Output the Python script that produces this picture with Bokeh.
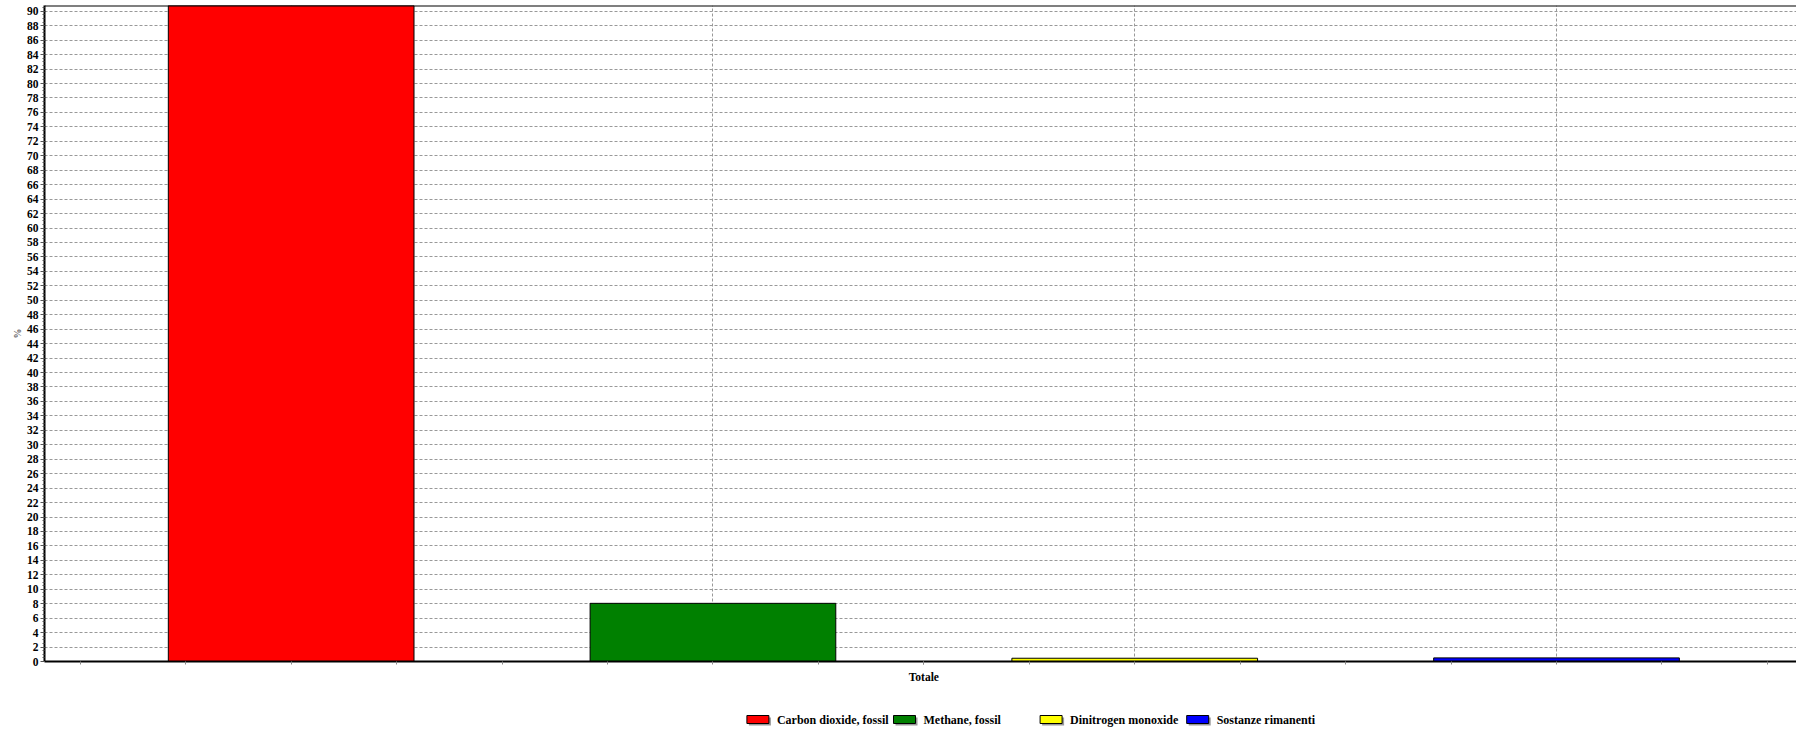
from bokeh.plotting import figure
from bokeh.layouts import column
from bokeh.models import (ColumnDataSource, FixedTicker, Range1d, Grid, Span)
from bokeh.core.properties import value
from bokeh.embed import file_html
from bokeh.resources import INLINE

# ---- data ----
substances = ["Carbon dioxide, fossil", "Methane, fossil", "Dinitrogen monoxide", "Sostanze rimanenti"]
shares = [91.0, 8.05, 0.45, 0.5]
colors = ["#ff0000", "#008000", "#ffff00", "#0000ff"]
positions = [1, 2, 3, 4]
group_label = "Totale"
y_ticks = list(range(0, 91, 2))
y_label = "%"

FONT = "Liberation Serif"

main = figure(width=1796, height=691, output_backend="svg", toolbar_location=None,
              x_range=Range1d(0.4152, 4.569), y_range=Range1d(0, 90.8),
              min_border_left=44, min_border_right=0, min_border_top=5, min_border_bottom=30)
main.outline_line_color = None
main.background_fill_color = "white"
main.border_fill_color = "white"

for xpos, val, col in zip(positions, shares, colors):
    src = ColumnDataSource(dict(x=[xpos], top=[val]))
    main.vbar(x="x", top="top", width=0.5825, bottom=0, source=src,
              fill_color=col, line_color="#000000", line_width=1)

# y axis
yax = main.yaxis[0]
minor_y = [i * 0.5 for i in range(0, 182)]
yax.ticker = FixedTicker(ticks=y_ticks, minor_ticks=minor_y)
yax.axis_line_color = "black"
yax.axis_line_width = 2
yax.major_tick_out = 4
yax.major_tick_in = 0
yax.minor_tick_out = 2
yax.minor_tick_in = 0
yax.major_tick_line_color = "#555555"
yax.minor_tick_line_color = "#555555"
yax.major_label_standoff = 2
yax.major_label_text_font = FONT
yax.major_label_text_font_style = "bold"
yax.major_label_text_font_size = "11.5px"
yax.major_label_text_color = "#000000"
yax.axis_label = y_label
yax.axis_label_text_font = FONT
yax.axis_label_text_font_style = "bold"
yax.axis_label_text_font_size = "10px"
yax.axis_label_text_color = "#666666"
yax.axis_label_standoff = 1

# x axis
xax = main.xaxis[0]
minor_x = [0.5 + 0.25 * i for i in range(0, 17)]
xax.ticker = FixedTicker(ticks=[2.5], minor_ticks=minor_x)
xax.major_label_overrides = {2.5: group_label}
xax.axis_line_color = "black"
xax.axis_line_width = 2
xax.major_tick_out = 3
xax.major_tick_in = 0
xax.minor_tick_out = 3
xax.minor_tick_in = 0
xax.major_tick_line_color = "#888888"
xax.minor_tick_line_color = "#888888"
xax.major_label_standoff = 6
xax.major_label_text_font = FONT
xax.major_label_text_font_style = "bold"
xax.major_label_text_font_size = "11.5px"
xax.major_label_text_color = "#000000"

# grids
main.xgrid.grid_line_color = None
main.ygrid.grid_line_color = "#999999"
main.ygrid.grid_line_dash = "3 2"
main.ygrid.grid_line_width = 1
vgrid = Grid(dimension=0, ticker=FixedTicker(ticks=positions),
             grid_line_color="#999999", grid_line_dash="3 2", grid_line_width=1)
main.add_layout(vgrid)

# top border of the frame
main.add_layout(Span(location=90.8, dimension="width", line_color="black", line_width=2))

# ---- legend strip (separate figure, x in page pixels) ----
leg = figure(width=1796, height=40, output_backend="svg", toolbar_location=None,
             x_range=Range1d(44, 1796), y_range=Range1d(0, 40),
             x_axis_type=None, y_axis_type=None,
             min_border_left=44, min_border_right=0, min_border_top=0, min_border_bottom=0)
leg.outline_line_color = None
leg.xgrid.grid_line_color = None
leg.ygrid.grid_line_color = None
leg.background_fill_color = "white"
leg.border_fill_color = "white"

start_x = 746.4
step_x = 146.6
sw_w, sw_h = 22, 8
yc = 12
box_x = [start_x + step_x * i + sw_w / 2 for i in range(len(substances))]
txt_x = [start_x + step_x * i + sw_w + 8 for i in range(len(substances))]
lsrc = ColumnDataSource(dict(bx=box_x, tx=txt_x, sx=[b + 2 for b in box_x],
                             y=[yc] * len(substances), sy=[yc - 2] * len(substances),
                             color=colors, name=substances))
leg.rect(x="sx", y="sy", width=sw_w, height=sw_h, source=lsrc,
         fill_color="#555555", fill_alpha=0.6, line_color=None)
leg.rect(x="bx", y="y", width=sw_w, height=sw_h, source=lsrc,
         fill_color="color", line_color="#000000", line_width=1)
leg.text(x="tx", y="y", text="name", source=lsrc, text_font=value(FONT),
         text_font_style="bold", text_font_size="12px", text_color="#000000",
         text_baseline="middle", text_align="left")

p = column(main, leg, spacing=0)

open("out.html", "w").write(file_html(p, INLINE))
